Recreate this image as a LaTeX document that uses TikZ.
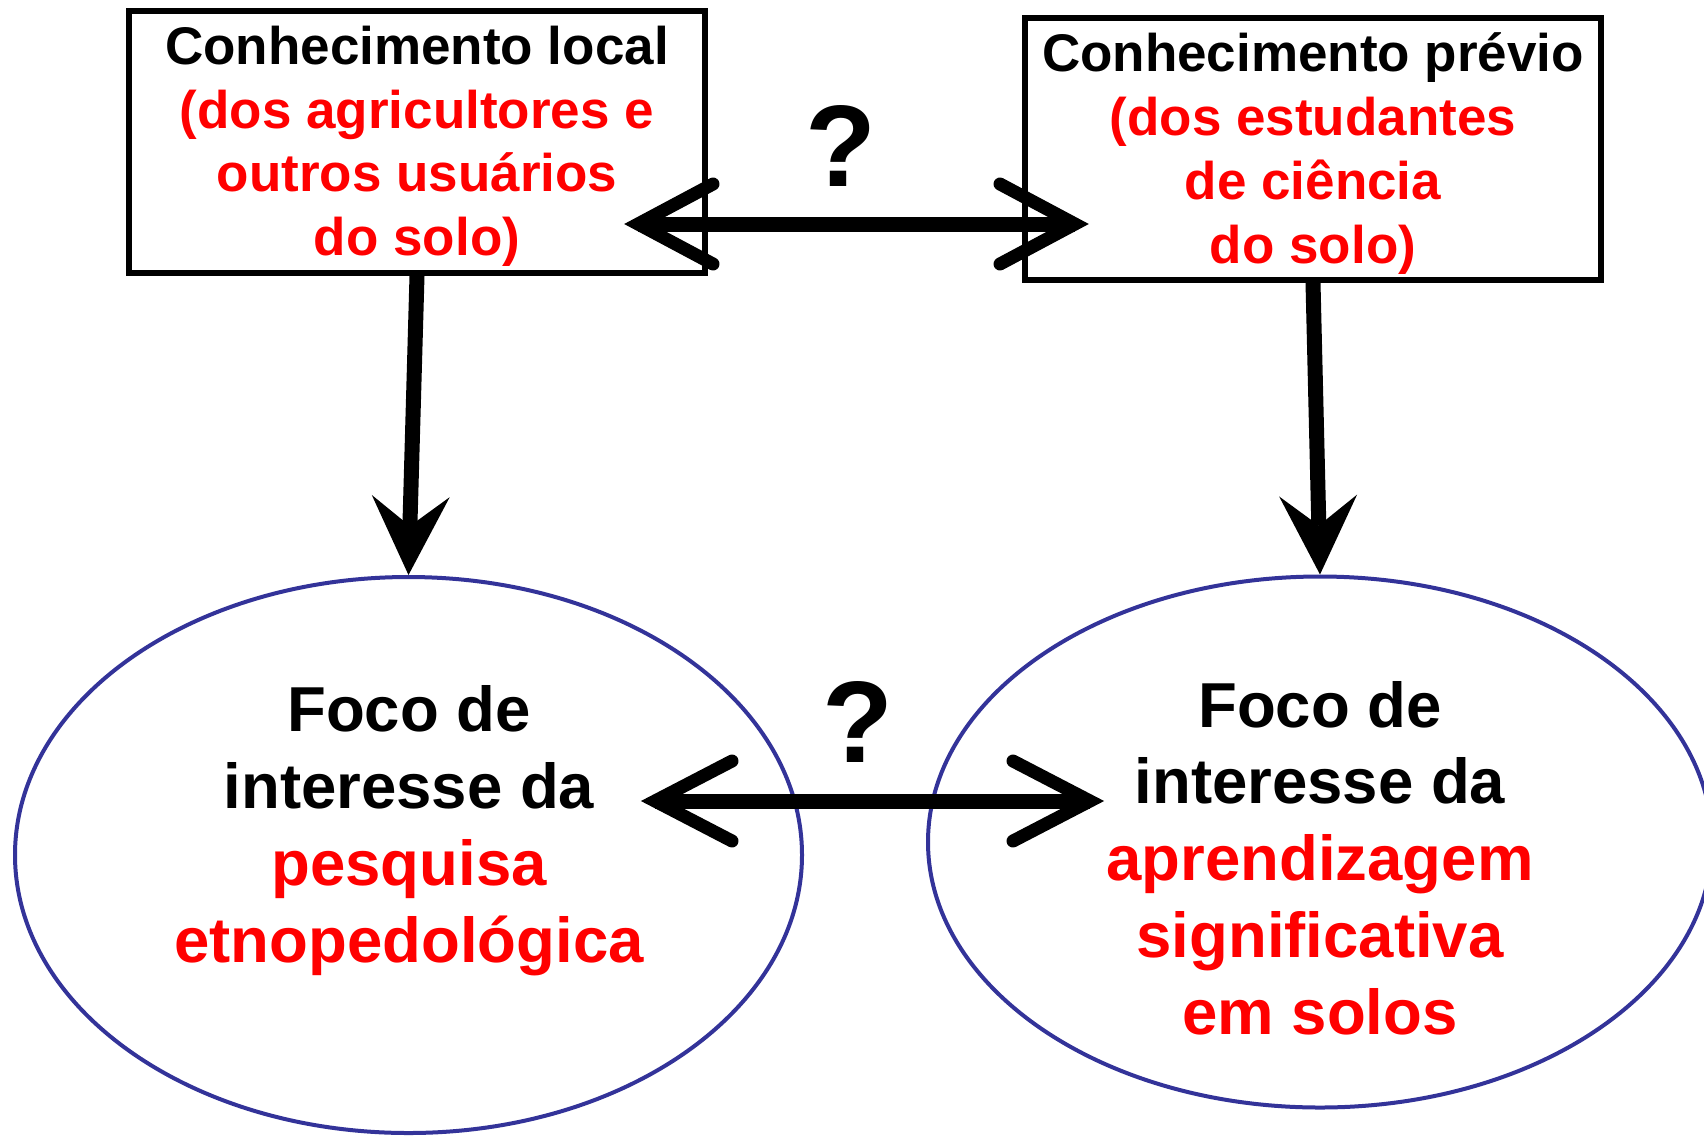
\documentclass[tikz,border=0pt]{standalone}
\usepackage{fontspec}
\setmainfont{Liberation Sans}
\usetikzlibrary{shapes.geometric,arrows.meta,calc}
\definecolor{ellblue}{RGB}{51,51,153}
\definecolor{txtred}{RGB}{255,0,0}
\begin{document}
\begin{tikzpicture}[x=1pt,y=-1pt,
  boxstyle/.style={draw=black,line width=5.5pt,rectangle,inner sep=0pt,minimum width=576pt,minimum height=262pt},
  ellstyle/.style={draw=ellblue,line width=4pt,ellipse,inner sep=0pt},
  boxtxt/.style={anchor=base,inner sep=0pt,font=\fontsize{53}{64}\selectfont\bfseries},
  elltxt/.style={anchor=base,inner sep=0pt,font=\fontsize{63.5}{77}\selectfont\bfseries},
  qmark/.style={inner sep=0pt,font=\fontsize{116}{120}\selectfont\bfseries},
  shaft/.style={line width=15pt},
  wing/.style={line width=13pt,line cap=round,line join=miter},
  down/.style={line width=15pt,-{Stealth[length=79pt,width=78pt,inset=30pt,line width=0pt]}}
]
\useasboundingbox (0,0) rectangle (1704,1136);

% boxes
\node[boxstyle] (b1) at (417,142) {};
\node[boxstyle] (b2) at (1313,149) {};

% ellipses
\node[ellstyle,minimum width=787pt,minimum height=556pt] (e1) at (408.5,855) {};
\node[ellstyle,minimum width=784pt,minimum height=531pt] (e2) at (1320,842) {};

% box texts
\node[boxtxt] (t1a) at (417,64) {Conhecimento local};
\node[boxtxt,text=txtred] (t1b) at (417,128) {(dos agricultores e};
\node[boxtxt,text=txtred] (t1c) at (417,191) {outros usuários};
\node[boxtxt,text=txtred] (t1d) at (417,255) {do solo)};

\node[boxtxt] (t2a) at (1313,71) {Conhecimento prévio};
\node[boxtxt,text=txtred] (t2b) at (1313,135) {(dos estudantes};
\node[boxtxt,text=txtred] (t2c) at (1313,199) {de ciência};
\node[boxtxt,text=txtred] (t2d) at (1313,263) {do solo)};

% ellipse texts
\node[elltxt] (t3a) at (409,731) {Foco de};
\node[elltxt] (t3b) at (409,808) {interesse da};
\node[elltxt,text=txtred] (t3c) at (409,885) {pesquisa};
\node[elltxt,text=txtred] (t3d) at (409,962) {etnopedológica};

\node[elltxt] (t4a) at (1320,727) {Foco de};
\node[elltxt] (t4b) at (1320,803) {interesse da};
\node[elltxt,text=txtred] (t4c) at (1320,880) {aprendizagem};
\node[elltxt,text=txtred] (t4d) at (1320,957) {significativa};
\node[elltxt,text=txtred] (t4e) at (1320,1034) {em solos};

% question marks
\node[qmark] (q1) at (841,146) {?};
\node[qmark] (q2) at (858,722) {?};

% vertical arrows
\draw[down] (b1.south) -- (e1.north);
\draw[down] (b2.south) -- (e2.north);

% top double arrow
\coordinate (tl) at (638,224);
\coordinate (tr) at (1075,224);
\draw[shaft] (tl) -- (tr);
\draw[wing] ($(tl)+(75,-40)$) -- (tl) -- ($(tl)+(75,40)$);
\draw[wing] ($(tr)+(-75,-40)$) -- (tr) -- ($(tr)+(-75,40)$);

% bottom double arrow
\coordinate (bl) at (655,801);
\coordinate (br) at (1090,801);
\draw[shaft] (bl) -- (br);
\draw[wing] ($(bl)+(77,-40)$) -- (bl) -- ($(bl)+(77,40)$);
\draw[wing] ($(br)+(-77,-40)$) -- (br) -- ($(br)+(-77,40)$);
\end{tikzpicture}
\end{document}
